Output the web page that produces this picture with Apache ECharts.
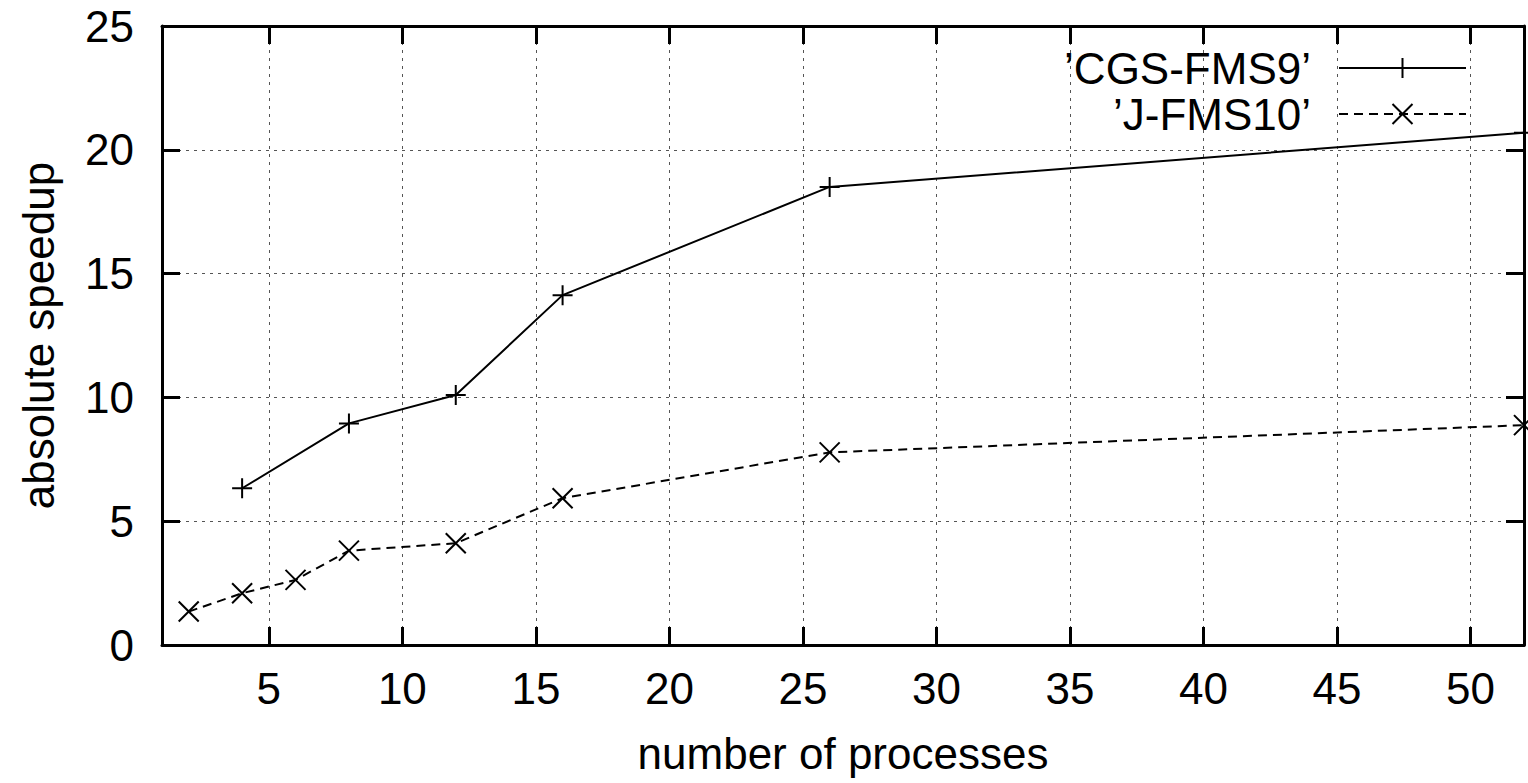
<!DOCTYPE html>
<html lang="en">
<head>
    <meta charset="UTF-8">
    <title>speedup</title>
    <script src="https://cdn.jsdelivr.net/npm/echarts@6/dist/echarts.min.js"></script>
    <style>
        html, body { margin: 0; padding: 0; background: #fff; }
        #main { width: 1528px; height: 783px; }
    </style>
</head>
<body>
<div id="main"></div>
<script type="text/javascript">
    // data
    var procsCGS = [4, 8, 12, 16, 26, 52];
    var speedupCGS = [6.33, 8.95, 10.1, 14.13, 18.5, 20.69];
    var procsJ = [2, 4, 6, 8, 12, 16, 26, 52];
    var speedupJ = [1.35, 2.09, 2.63, 3.81, 4.11, 5.93, 7.78, 8.88];
    var xTicks = [5, 10, 15, 20, 25, 30, 35, 40, 45, 50];
    var seriesNames = ["\u2019CGS-FMS9\u2019", "\u2019J-FMS10\u2019"];

    function pairs(xs, ys) {
        return xs.map(function (x, i) { return [x, ys[i]]; });
    }

    var FONT = 'Liberation Sans';
    var FS = 44;
    var plusPath = 'path://M0,10L20,10M10,0L10,20';
    var crossPath = 'path://M0,0L20,20M0,20L20,0';

    // svg renderer: the inside ticks did not always make it onto the canvas
    var myChart = echarts.init(document.getElementById('main'), null, { renderer: 'svg' });

    var gridLine = { show: true, lineStyle: { color: '#555', width: 1, type: [3, 5] } };

    var option = {
        animation: false,
        backgroundColor: '#fff',
        textStyle: { fontFamily: FONT, color: '#000' },
        grid: { left: 162, right: 4, top: 26, bottom: 138, containLabel: false },
        legend: {
            orient: 'vertical',
            right: 56,
            top: 41,
            align: 'right',
            itemWidth: 127,
            itemHeight: 25,
            itemGap: 2,
            data: seriesNames,
            textStyle: { fontFamily: FONT, fontSize: FS, color: '#000', padding: [0, 23, 0, 0] }
        },
        xAxis: [{
            type: 'value',
            min: 1,
            max: 52,
            name: 'number of processes',
            nameLocation: 'middle',
            nameGap: 86,
            nameTextStyle: { fontFamily: FONT, fontSize: FS, color: '#000' },
            axisLine: { show: true, onZero: false, lineStyle: { color: '#000', width: 3 } },
            axisTick: { show: true, inside: true, length: 18, customValues: xTicks, lineStyle: { color: '#000', width: 3 } },
            axisLabel: { customValues: xTicks, margin: 21, fontFamily: FONT, fontSize: FS, color: '#000' },
            splitLine: gridLine
        }, {
            type: 'value',
            position: 'top',
            min: 1,
            max: 52,
            axisLine: { show: true, onZero: false, lineStyle: { color: '#000', width: 3 } },
            axisTick: { show: true, inside: true, length: 18, customValues: xTicks, lineStyle: { color: '#000', width: 3 } },
            axisLabel: { show: false },
            splitLine: { show: false }
        }],
        yAxis: [{
            type: 'value',
            min: 0,
            max: 25,
            interval: 5,
            name: 'absolute speedup',
            nameLocation: 'middle',
            nameGap: 102,
            nameTextStyle: { fontFamily: FONT, fontSize: FS, color: '#000' },
            axisLine: { show: true, onZero: false, lineStyle: { color: '#000', width: 3 } },
            axisTick: { show: true, inside: true, length: 18, lineStyle: { color: '#000', width: 3 } },
            axisLabel: { margin: 28, padding: [0, 0, 6, 0], fontFamily: FONT, fontSize: FS, color: '#000' },
            splitLine: gridLine
        }, {
            type: 'value',
            position: 'right',
            min: 0,
            max: 25,
            interval: 5,
            axisLine: { show: true, onZero: false, lineStyle: { color: '#000', width: 3 } },
            axisTick: { show: true, inside: true, length: 18, lineStyle: { color: '#000', width: 3 } },
            axisLabel: { show: false },
            splitLine: { show: false }
        }],
        series: [{
            name: seriesNames[0],
            type: 'line',
            data: pairs(procsCGS, speedupCGS),
            symbol: plusPath,
            symbolSize: 20,
            itemStyle: { color: '#000', borderColor: '#000', borderWidth: 2 },
            lineStyle: { color: '#000', width: 2, type: 'solid' }
        }, {
            name: seriesNames[1],
            type: 'line',
            data: pairs(procsJ, speedupJ),
            symbol: crossPath,
            symbolSize: 20,
            itemStyle: { color: '#000', borderColor: '#000', borderWidth: 2 },
            lineStyle: { color: '#000', width: 2, type: [9, 6] }
        }]
    };

    myChart.setOption(option);
</script>
</body>
</html>
